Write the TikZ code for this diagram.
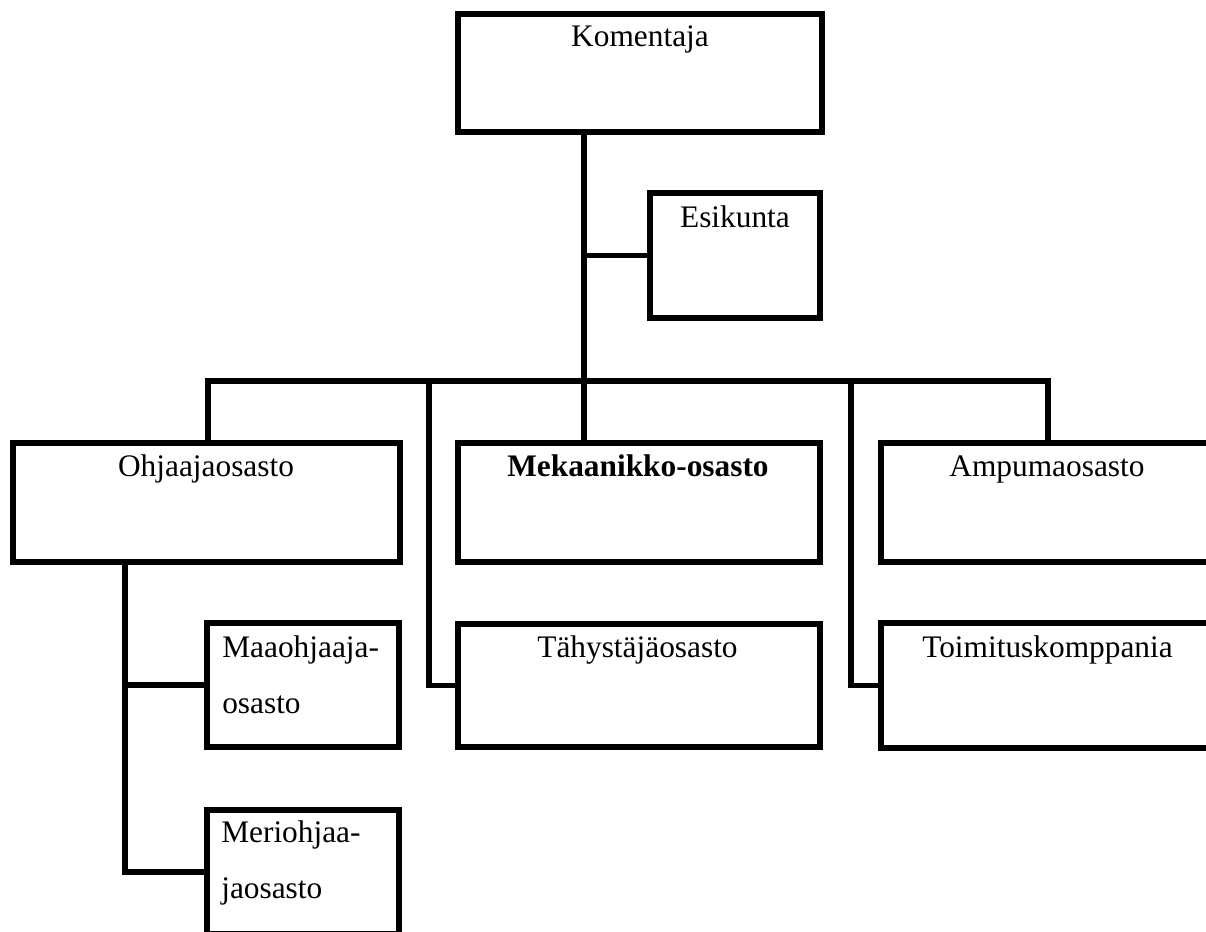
\documentclass[tikz,border=0pt]{standalone}
\usepackage{fontspec}
\setmainfont{Liberation Serif}
\newcommand\orgbox[5]{\node[orgboxstyle, minimum width={(#4-#2)*0.025cm}, minimum height={(#5-#3)*0.025cm}] (#1) at ({(#2+#4)/2},{(#3+#5)/2}) {};}
\begin{document}
\begin{tikzpicture}[x=0.025cm, y=-0.025cm,
  orgboxstyle/.style={draw=black, line width=3.6pt, inner sep=0pt, fill=white},
  conn/.style={draw=black, line width=3.6pt},
  lbl/.style={inner sep=0pt, font=\fontsize{22.3pt}{27pt}\selectfont}]
\useasboundingbox (0,0) rectangle (1206,932);
\clip (0,0) rectangle (1206,932);
\fill[white] (0,0) rectangle (1206,932);
% boxes
\orgbox{K}{458}{14}{822}{132}
\orgbox{E}{650}{193}{820}{318}
\orgbox{O}{13}{443}{400}{562}
\orgbox{M}{458}{443}{820}{562}
\orgbox{A}{881}{443}{1214}{562}
\orgbox{T}{458}{624}{820}{747}
\orgbox{To}{881}{623}{1214}{748}
\orgbox{Ma}{207}{623}{399}{747}
\orgbox{Me}{207}{810}{399}{934}
% coordinates for connectors
\coordinate (trunk) at (584,381);
\coordinate (barL) at (208,381);
\coordinate (barR) at (1048,381);
\coordinate (tl) at (429,381);
\coordinate (tr) at (851,381);
\coordinate (ov) at (125,562);
% connectors
\draw[conn] (trunk |- K.south) -- (trunk |- M.north);
\draw[conn] (trunk |- E.west) -- (E.west);
\draw[conn] (barL |- O.north) -- (barL) -- (barR) -- (barR |- A.north);
\draw[conn] (tl) -- (tl |- T.west) -- (T.west);
\draw[conn] (tr) -- (tr |- To.west) -- (To.west);
\draw[conn] (ov |- O.south) -- (ov |- Me.west) -- (Me.west);
\draw[conn] (ov |- Ma.west) -- (Ma.west);
% labels
\node[lbl, anchor=base] (kt) at (640,47) {Komentaja};
\node[lbl, anchor=base] (et) at (735,228) {Esikunta};
\node[lbl, anchor=base] (ot) at (206,476) {Ohjaajaosasto};
\node[lbl, anchor=base] (mt) at (638,476) {\bfseries Mekaanikko-osasto};
\node[lbl, anchor=base] (at) at (1047,476) {Ampumaosasto};
\node[lbl, anchor=base] (tt) at (637.5,657) {Tähystäjäosasto};
\node[lbl, anchor=base] (tot) at (1047.5,657) {Toimituskomppania};
\node[lbl, anchor=base west] (mat1) at (222,657) {Maaohjaaja-};
\node[lbl, anchor=base west] (mat2) at (222,713) {osasto};
\node[lbl, anchor=base west] (met1) at (221,842) {Meriohjaa-};
\node[lbl, anchor=base west] (met2) at (221,898) {jaosasto};
\end{tikzpicture}
\end{document}
